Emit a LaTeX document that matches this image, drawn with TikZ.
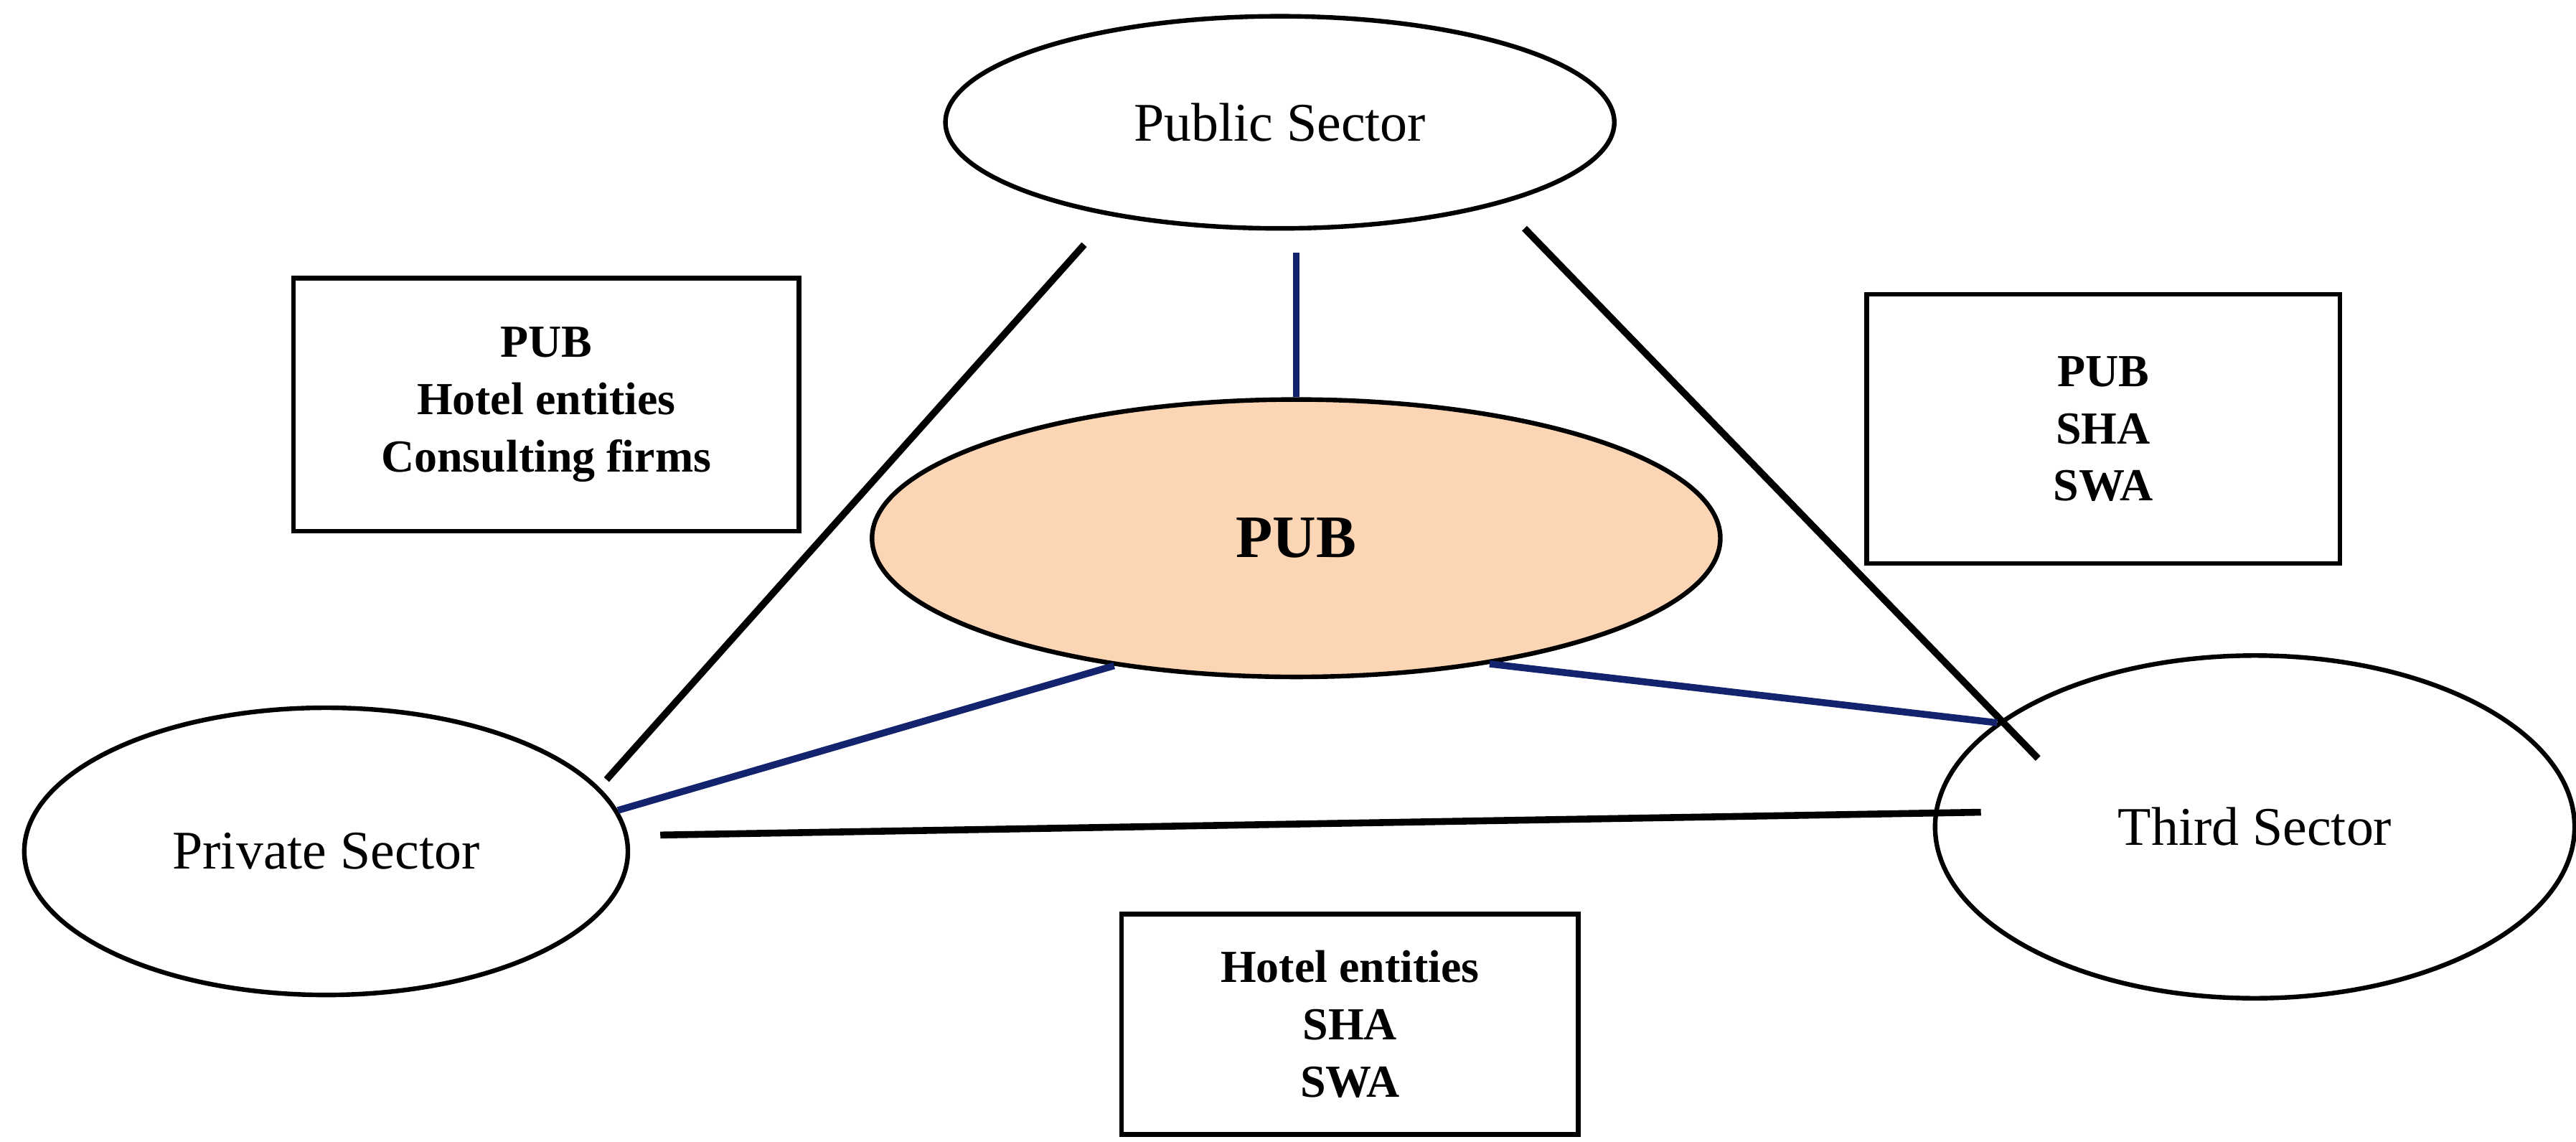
\documentclass[tikz,border=0pt]{standalone}
\usepackage{fontspec}
\setmainfont{Liberation Serif}
\usetikzlibrary{shapes.geometric}
\definecolor{linkblue}{RGB}{20,35,110}
\definecolor{pubfill}{RGB}{252,213,181}
\begin{document}
\begin{tikzpicture}[x=0.01cm,y=-0.01cm,
sector/.style ={ellipse, draw, thick, inner sep=0pt, font=\fontsize{9.5}{11}\selectfont},
infobox/.style ={draw, thick, align=center, inner sep=0pt, font=\bfseries\fontsize{8}{10}\selectfont},
tie/.style ={line width=1.2pt, black},
link/.style ={line width=1.2pt, linkblue}]
\useasboundingbox (0,0) rectangle (1580,700);
\node[sector, minimum width=4.1cm, minimum height=1.3cm] (public) at (785,75) {Public Sector};
\node[sector, fill=pubfill, minimum width=5.2cm, minimum height=1.7cm,
font=\bfseries\fontsize{10.5}{12}\selectfont] (pub) at (795,330) {PUB};
\node[sector, minimum width=3.7cm, minimum height=1.76cm] (private) at (200,522) {Private Sector};
\node[sector, minimum width=3.92cm, minimum height=2.1cm] (third) at (1383,507) {Third Sector};
\node[infobox, minimum width=3.1cm, minimum height=1.55cm] (boxleft) at (335,248) {PUB\\Hotel entities\\Consulting firms};
\node[infobox, minimum width=2.9cm, minimum height=1.65cm] (boxright) at (1290,263) {PUB\\SHA\\SWA};
\node[infobox, minimum width=2.8cm, minimum height=1.35cm] (boxbottom) at (828,628) {Hotel entities\\SHA\\SWA};
% end points of the ties
\coordinate (pubtop) at (795,155);
\coordinate (publeft) at (665,150);
\coordinate (pubright) at (935,140);
\coordinate (privtop) at (372,478);
\coordinate (privright) at (405,512);
\coordinate (thirdtop) at (1250,465);
\coordinate (thirdleft) at (1215,498);
\draw[tie] (publeft) -- (privtop);
\draw[tie] (pubright) -- (thirdtop);
\draw[tie] (privright) -- (thirdleft);
\draw[link] (pubtop) -- (pub.north);
\draw[link] (pub.-145) -- (private.8);
\draw[link] (pub.-33) -- (third.158);
\end{tikzpicture}
\end{document}
